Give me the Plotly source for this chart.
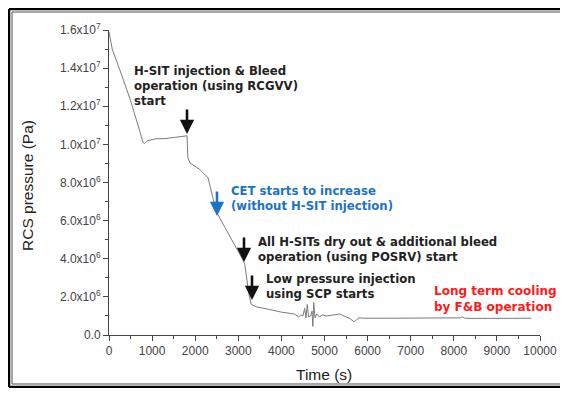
import plotly.graph_objects as go

# ---- data ----
time_s = [0, 75, 300, 500, 700, 790, 830, 900, 1000, 1100, 1300, 1500, 1700, 1810,
          1830, 1850, 1880, 2100, 2300, 2420, 2530, 2700, 2900, 3110, 3150, 3250, 3300,
          3380, 3430, 3700, 4000, 4300, 4400, 4450, 4500, 4540, 4570, 4600, 4630, 4680,
          4710, 4730, 4750, 4780, 4820, 4880, 4950, 5050, 5200, 5350, 5450, 5600, 5680,
          5720, 5800, 5900, 6500, 7000, 7500, 8000, 8150, 8200, 8250, 8500, 9000, 9500, 9800]
pressure_pa = [15.9e6, 15.0e6, 13.6e6, 12.3e6, 10.8e6, 10.1e6, 10.05e6, 10.2e6, 10.25e6,
               10.3e6, 10.3e6, 10.35e6, 10.4e6, 10.45e6,
               9.3e6, 9.2e6, 9.02e6, 8.7e6, 8.24e6, 7.1e6, 6.3e6, 5.6e6, 4.8e6, 3.93e6,
               3.7e6, 2.1e6, 1.6e6, 1.5e6, 1.47e6, 1.35e6, 1.2e6, 1.1e6, 0.95e6, 1.05e6,
               1.0e6, 1.4e6, 0.9e6, 1.6e6, 0.95e6, 1.0e6, 1.25e6, 0.45e6, 1.7e6, 0.9e6,
               1.1e6, 0.95e6, 1.05e6, 1.0e6, 1.05e6, 1.1e6, 1.0e6, 0.85e6, 0.7e6, 0.75e6,
               0.9e6, 0.88e6, 0.88e6, 0.88e6, 0.87e6, 0.87e6, 0.9e6, 0.95e6, 0.88e6,
               0.87e6, 0.88e6, 0.88e6, 0.88e6]

x_ticks = [0, 1000, 2000, 3000, 4000, 5000, 6000, 7000, 8000, 9000, 10000]
y_tickvals = [0, 2e6, 4e6, 6e6, 8e6, 1.0e7, 1.2e7, 1.4e7, 1.6e7]
y_ticktext = ["0.0", "2.0x10<sup>6</sup>", "4.0x10<sup>6</sup>", "6.0x10<sup>6</sup>",
              "8.0x10<sup>6</sup>", "1.0x10<sup>7</sup>", "1.2x10<sup>7</sup>",
              "1.4x10<sup>7</sup>", "1.6x10<sup>7</sup>"]

# ---- layout geometry (pixels) ----
OFF = 8  # page body margin: the figure is drawn 8px right/down in the window
W, H = 568 - 2 * OFF, 396 - 2 * OFF  # fits the window without scrollbars
# plot area in window pixels: x 109..540, y 30..335
L = 109 - OFF
T = 30 - OFF
R = W - (540 - OFF)
B = H - (335 - OFF)
PW, PH = W - L - R, H - T - B

def px(xp):  # window pixel -> paper x
    return (xp - OFF - L) / PW

def py(yp):  # window pixel -> paper y
    return (H - B - (yp - OFF)) / PH

fig = go.Figure()
fig.add_trace(go.Scatter(x=time_s, y=pressure_pa, mode="lines",
                         line=dict(color="#7a7a7a", width=1), showlegend=False,
                         hoverinfo="skip"))

axis_common = dict(showgrid=False, zeroline=False, showline=True, linecolor="#444",
                   linewidth=1, ticks="outside", ticklen=5, tickcolor="#444",
                   automargin=False,
                   tickfont=dict(family="Liberation Sans, Arial", size=12, color="#444"))

fig.update_xaxes(range=[0, 10000], tickvals=x_ticks, ticktext=[str(v) for v in x_ticks],
                 minor=dict(ticks="outside", dtick=500, ticklen=3, tickcolor="#444"),
                 **axis_common)
fig.update_yaxes(range=[0, 1.6e7], tickvals=y_tickvals, ticktext=y_ticktext,
                 minor=dict(ticks="outside", dtick=1e6, ticklen=3, tickcolor="#444"),
                 **axis_common)

FONT = "DejaVu Sans"
FS = 11.7
ann_font = dict(family=FONT, size=FS, color="#222")
annotations = [
    # axis titles
    dict(text="RCS pressure (Pa)", x=px(27), y=py(186), xref="paper", yref="paper",
         xanchor="center", yanchor="middle", textangle=-90, showarrow=False,
         font=dict(family="Liberation Sans, Arial", size=15.5, color="#222")),
    dict(text="Time (s)", x=px(324), y=py(374), xref="paper", yref="paper",
         xanchor="center", yanchor="middle", showarrow=False,
         font=dict(family="Liberation Sans, Arial", size=15.5, color="#222")),
    # text blocks
    dict(text="<b>H-SIT injection &amp; Bleed<br>operation (using RCGVV)<br>start</b>",
         x=px(132), y=py(62), xref="paper", yref="paper", xanchor="left", yanchor="top",
         align="left", showarrow=False, font=ann_font),
    dict(text="<b>CET starts to increase<br>(without H-SIT injection)</b>",
         x=px(229), y=py(182), xref="paper", yref="paper", xanchor="left", yanchor="top",
         align="left", showarrow=False, font=dict(family=FONT, size=FS, color="#1a73c8")),
    dict(text="<b>All H-SITs dry out &amp; additional bleed<br>operation (using POSRV) start</b>",
         x=px(256), y=py(233), xref="paper", yref="paper", xanchor="left", yanchor="top",
         align="left", showarrow=False, font=ann_font),
    dict(text="<b>Low pressure injection<br>using SCP starts</b>",
         x=px(264), y=py(270), xref="paper", yref="paper", xanchor="left", yanchor="top",
         align="left", showarrow=False, font=ann_font),
    dict(text="<b>Long term cooling<br>by F&amp;B operation</b>",
         x=px(432), y=py(282), xref="paper", yref="paper", xanchor="left", yanchor="top",
         align="left", showarrow=False, font=dict(family=FONT, size=12, color="#ff1a1a")),
]

# arrows (head position in window px, tail 26px above)
arrows = [(187, 134, "#111"), (217, 216, "#1a73c8"), (244, 262, "#111"), (252, 300, "#111")]
for xa, ya, col in arrows:
    annotations.append(dict(x=px(xa), y=py(ya), xref="paper", yref="paper", ax=0, ay=-26,
                            showarrow=True, arrowhead=2, arrowsize=1.1, arrowwidth=2.6,
                            arrowcolor=col, text=""))

# frame (double border: left, top, bottom edges; right edge is off-picture)
def frame_lines(x0, y0, x1, y1, color, width):
    segs = [(x0, y0, x1, y0), (x0, y0, x0, y1), (x0, y1, x1, y1)]
    return [dict(type="line", xref="paper", yref="paper", x0=px(a), y0=py(b), x1=px(c), y1=py(d),
                 line=dict(color=color, width=width)) for a, b, c, d in segs]

shapes = frame_lines(9, 9, 640, 387, "#000", 2.5) + frame_lines(12, 12, 640, 384, "#888", 1.5)

fig.update_layout(width=W, height=H, margin=dict(l=L, r=R, t=T, b=B, autoexpand=False),
                  paper_bgcolor="white", plot_bgcolor="white",
                  annotations=annotations, shapes=shapes)

fig.write_html("out.html")
